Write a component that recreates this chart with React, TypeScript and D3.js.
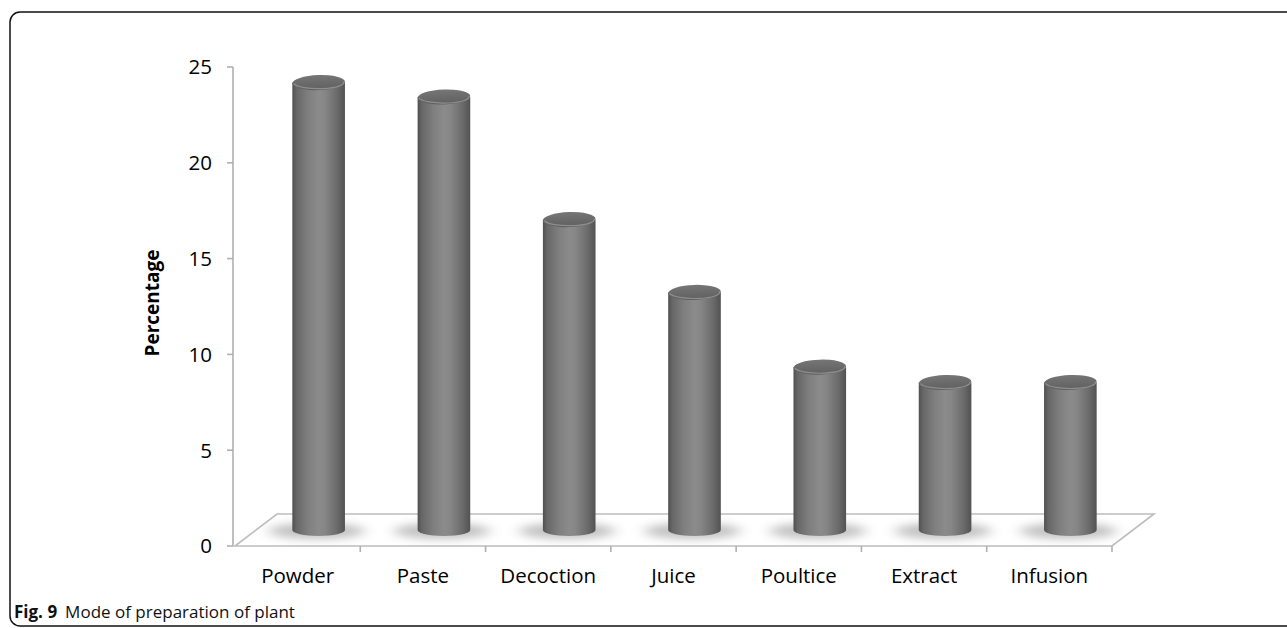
import React, { useEffect, useRef } from "react";
import * as d3 from "d3";

const categories = ["Powder", "Paste", "Decoction", "Juice", "Poultice", "Extract", "Infusion"];
const values = [23.35, 22.6, 16.2, 12.4, 8.5, 7.7, 7.7];
const yTicks = [0, 5, 10, 15, 20, 25];
const yLabel = "Percentage";
const captionBold = "Fig. 9";
const captionText = "Mode of preparation of plant";

export default function App() {
  const ref = useRef<SVGSVGElement | null>(null);

  useEffect(() => {
    const W = 1287, H = 628;
    const svg = d3.select(ref.current);
    svg.selectAll("*").remove();
    svg.attr("width", W).attr("height", H);

    const font = "'Open Sans', sans-serif";
    const x0 = 235, x1 = 1112, yBase = 546, yTopAxis = 67;
    const depthX = 42, depthY = -32;

    const x = d3.scaleBand<string>().domain(categories).range([x0, x1]).paddingInner(0).paddingOuter(0);
    const y = d3.scaleLinear().domain([0, 25]).range([yBase, yTopAxis]);

    const defs = svg.append("defs");
    const grad = defs.append("linearGradient").attr("id", "cyl").attr("x1", "0%").attr("x2", "100%").attr("y1", "0%").attr("y2", "0%");
    [
      [0, "#505050"], [0.08, "#676767"], [0.3, "#7f7f7f"], [0.5, "#8b8b8b"], [0.62, "#868686"], [0.85, "#6b6b6b"], [1, "#525252"],
    ].forEach(([o, c]) => grad.append("stop").attr("offset", o as number).attr("stop-color", c as string));
    const topGrad = defs.append("linearGradient").attr("id", "cyltop").attr("x1", "0%").attr("x2", "0%").attr("y1", "0%").attr("y2", "100%");
    [[0, "#767676"], [0.6, "#686868"], [1, "#606060"]].forEach(([o, c]) =>
      topGrad.append("stop").attr("offset", o as number).attr("stop-color", c as string));
    const blur = defs.append("filter").attr("id", "blur").attr("x", "-50%").attr("y", "-150%").attr("width", "200%").attr("height", "400%");
    blur.append("feGaussianBlur").attr("stdDeviation", "7 4");

    // frame
    svg.append("rect").attr("x", 10).attr("y", 12).attr("width", 1300).attr("height", 614)
      .attr("rx", 10).attr("fill", "none").attr("stroke", "#111").attr("stroke-width", 1.5);

    // floor
    const floor = [
      [x0, yBase], [x1, yBase], [x1 + depthX, yBase + depthY], [x0 + depthX, yBase + depthY],
    ];
    svg.append("path").attr("d", d3.line()(floor as [number, number][]) + "Z")
      .attr("fill", "#fff").attr("stroke", "#bdbdbd").attr("stroke-width", 1.6);

    // y axis
    const axisColor = "#b0b0b0";
    svg.append("line").attr("x1", 233).attr("x2", 233).attr("y1", y(25)).attr("y2", y(0))
      .attr("stroke", axisColor).attr("stroke-width", 1.6);
    yTicks.forEach(t => {
      svg.append("line").attr("x1", 227).attr("x2", 233).attr("y1", y(t)).attr("y2", y(t))
        .attr("stroke", axisColor).attr("stroke-width", 1.6);
      svg.append("text").attr("x", 212).attr("y", y(t)).attr("dy", "0.36em").attr("text-anchor", "end")
        .attr("font-family", font).attr("font-size", 20.5).attr("fill", "#000").text(String(t));
    });

    // x ticks
    const bounds = categories.map(c => x(c) as number).concat([x1]);
    bounds.slice(1).forEach(b => {
      svg.append("line").attr("x1", b).attr("x2", b).attr("y1", yBase).attr("y2", yBase + 6)
        .attr("stroke", axisColor).attr("stroke-width", 1.6);
    });
    categories.forEach(c => {
      svg.append("text").attr("x", (x(c) as number) + x.bandwidth() / 2).attr("y", 583)
        .attr("text-anchor", "middle").attr("font-family", font).attr("font-size", 20.5).attr("fill", "#000").text(c);
    });

    // bars
    const bw = x.bandwidth() * 0.42;
    const rx = bw / 2;
    categories.forEach((c, i) => {
      const cx = (x(c) as number) + x.bandwidth() / 2 + depthX / 2;
      const yb = y(0) + depthY / 2;
      const yt = y(values[i]) + depthY / 2;
      const ryB = 6, ryT = 7.5;
      const g = svg.append("g");
      g.append("ellipse").attr("cx", cx - 2).attr("cy", yb + 1).attr("rx", rx + 22).attr("ry", 8)
        .attr("fill", "#777").attr("opacity", 0.45).attr("filter", "url(#blur)");
      g.append("path")
        .attr("d", `M${cx - rx},${yt} L${cx - rx},${yb} A${rx},${ryB} 0 0 0 ${cx + rx},${yb} L${cx + rx},${yt} Z`)
        .attr("fill", "url(#cyl)");
      g.append("ellipse").attr("cx", cx).attr("cy", yt).attr("rx", rx).attr("ry", ryT)
        .attr("transform", `rotate(-2 ${cx} ${yt})`)
        .attr("fill", "url(#cyltop)");
      g.append("path")
        .attr("d", `M${cx - rx + 1.5},${yt + 1} A${rx - 1.5},${ryT - 1.5} 0 0 0 ${cx + rx - 1.5},${yt - 1}`)
        .attr("fill", "none").attr("stroke", "#999").attr("stroke-width", 1.2).attr("opacity", 0.8);
    });

    // y label
    svg.append("text").attr("transform", "translate(159,303) rotate(-90)").attr("text-anchor", "middle")
      .attr("font-family", font).attr("font-size", 19).attr("font-weight", "bold").attr("fill", "#000").text(yLabel);

    // caption
    const cap = svg.append("text").attr("x", 14).attr("y", 618).attr("font-family", font).attr("font-size", 17).attr("fill", "#111");
    cap.append("tspan").attr("font-weight", "bold").text(captionBold);
    cap.append("tspan").attr("dx", 8).text(captionText);
  }, []);

  return <svg ref={ref} style={{ position: "absolute", left: 0, top: 0, background: "#fff" }} />;
}
